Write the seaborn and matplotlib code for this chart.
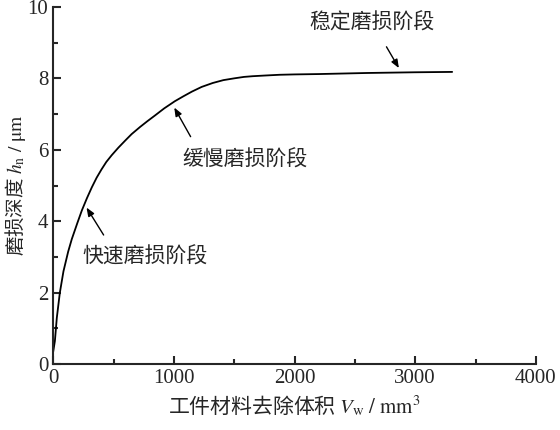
import matplotlib
matplotlib.use("Agg")
import matplotlib.pyplot as plt
import seaborn as sns
import pandas as pd
from matplotlib.ticker import MultipleLocator

# wear curve
vol = [0, 14, 30, 55, 85, 124, 154, 200, 237, 280, 320, 360, 400, 440, 485, 540, 600,
       650, 720, 780, 843, 920, 1008, 1080, 1150, 1230, 1322, 1410, 1500, 1580, 1653,
       1760, 1876, 2000, 2200, 2600, 3000, 3306]
depth = [0.35, 0.65, 1.3, 2.0, 2.6, 3.15, 3.5, 3.95, 4.3, 4.65, 4.95, 5.22, 5.45, 5.66,
         5.85, 6.06, 6.27, 6.44, 6.64, 6.8, 6.96, 7.16, 7.36, 7.5, 7.63, 7.76, 7.87, 7.95,
         8.0, 8.04, 8.06, 8.08, 8.1, 8.11, 8.12, 8.15, 8.17, 8.18]

stage_labels = ["快速磨损阶段", "缓慢磨损阶段", "稳定磨损阶段"]
label_pos = [(760, 3.0), (1590, 5.7), (2645, 9.55)]
arrow_tail = [(430, 3.55), (1150, 6.3), (2750, 8.95)]
arrow_head = [(264, 4.45), (992, 7.25), (2876, 8.22)]

df = pd.DataFrame({"vol": vol, "depth": depth})

sns.set_style("ticks")
plt.rcParams["font.family"] = ["Liberation Serif", "Noto Sans CJK SC", "DejaVu Sans"]
plt.rcParams["mathtext.fontset"] = "stix"
plt.rcParams["axes.linewidth"] = 1.5

fig, ax = plt.subplots(figsize=(5.6, 4.3), dpi=100)
fig.subplots_adjust(left=0.095, right=0.957, bottom=0.153, top=0.984)

sns.lineplot(data=df, x="vol", y="depth", color="black", linewidth=1.3, ax=ax)

for txt, lp, tail, head in zip(stage_labels, label_pos, arrow_tail, arrow_head):
    ax.text(lp[0], lp[1], txt, ha="center", va="center", fontsize=15)
    ax.annotate("", xy=head, xytext=tail,
                arrowprops=dict(arrowstyle="-|>,head_length=0.5,head_width=0.2",
                                color="black", lw=1.0))

ax.set_xlim(0, 4000)
ax.set_ylim(0, 10)
ax.xaxis.set_major_locator(MultipleLocator(1000))
ax.xaxis.set_minor_locator(MultipleLocator(500))
ax.yaxis.set_major_locator(MultipleLocator(2))
ax.yaxis.set_minor_locator(MultipleLocator(1))
ax.tick_params(which="both", direction="in", width=1.5, labelsize=15)
ax.tick_params(which="major", length=6)
ax.tick_params(which="minor", length=3.5)
sns.despine(ax=ax)

# mathtext does not fall back per glyph, so the CJK part gets a CJK font
# and the symbols/units go into math with the stix (Times-like) set
ax.set_xlabel(r"工件材料去除体积 $V_\mathrm{w}\ /\ \mathrm{mm}^3$",
              fontsize=15, labelpad=4, family="Noto Sans CJK SC")
ax.set_ylabel(r"磨损深度 $h_\mathrm{n}\ /\ \mathrm{\mu m}$",
              fontsize=14, labelpad=0, family="Noto Sans CJK SC")

fig.savefig("out.png", dpi=100)
